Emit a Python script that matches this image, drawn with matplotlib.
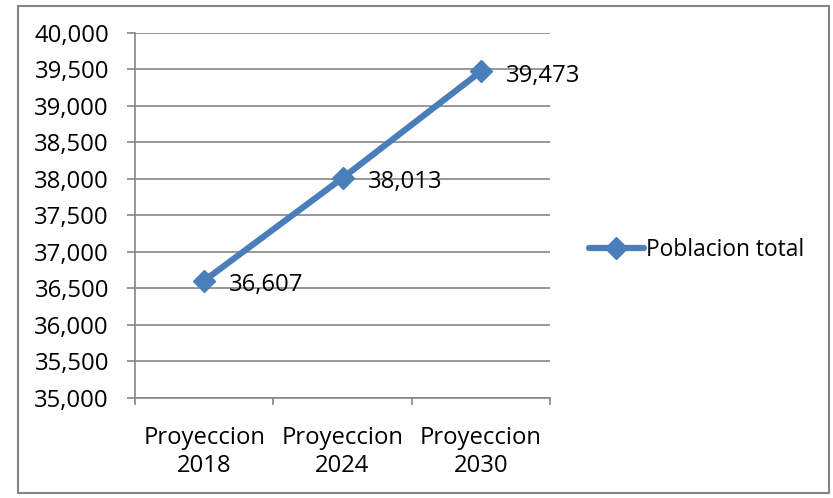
import matplotlib
matplotlib.use("Agg")
import matplotlib.pyplot as plt
from matplotlib.patches import Rectangle
from matplotlib.ticker import FuncFormatter, FixedLocator

categories = ["Proyeccion\n2018", "Proyeccion\n2024", "Proyeccion\n2030"]
values = [36607, 38013, 39473]
series_name = "Poblacion total"
yticks = [35000, 35500, 36000, 36500, 37000, 37500, 38000, 38500, 39000, 39500, 40000]

plt.rcParams['font.family'] = ['Open Sans', 'DejaVu Sans']
FS = 17.2
W, H = 833, 498
fig = plt.figure(figsize=(W/100, H/100), dpi=100)
fig.patches.append(Rectangle((18/W, 5/H), (829-18)/W, (492-5)/H, transform=fig.transFigure,
                             fill=False, edgecolor="#868686", linewidth=1.5))

ax = fig.add_axes([135/W, 1-398/H, (550-135)/W, (398-33)/H])
color = "#4A7EBB"
x = list(range(len(values)))
line, = ax.plot(x, values, color=color, linewidth=4.5, marker="D", markersize=11,
                label=series_name, zorder=3, solid_capstyle="round")
for xi, v in zip(x, values):
    ax.annotate(f"{v:,}", (xi, v), xytext=(18, -3), textcoords="offset points",
                ha="left", va="center", fontsize=FS, color="black", zorder=4)

ax.set_xlim(-0.5, 2.5)
ax.set_ylim(35000, 40000)
ax.set_yticks(yticks)
ax.yaxis.set_major_formatter(FuncFormatter(lambda v, p: f"{int(v):,}"))
ax.set_xticks(x)
ax.set_xticklabels(categories, fontsize=FS, linespacing=1.22)
ax.xaxis.set_minor_locator(FixedLocator([-0.5, 0.5, 1.5, 2.5]))
ax.tick_params(axis="x", which="major", length=0, pad=20)
ax.tick_params(axis="x", which="minor", length=5, color="#868686", width=1.2)
ax.tick_params(axis="y", length=5.8, color="#868686", width=1.2, labelsize=FS, pad=13)
ax.grid(axis="y", color="#868686", linewidth=1.2)
ax.set_axisbelow(True)
for s in ["top", "right"]:
    ax.spines[s].set_visible(False)
for s in ["left", "bottom"]:
    ax.spines[s].set_color("#868686")
    ax.spines[s].set_linewidth(1.2)

fig.legend(handles=[line], loc="center left", bbox_to_anchor=(589/W, 1-250/H), frameon=False,
           fontsize=16.4, handlelength=2.4, handletextpad=0.1, borderpad=0, borderaxespad=0)
fig.savefig("out.png", dpi=100)
